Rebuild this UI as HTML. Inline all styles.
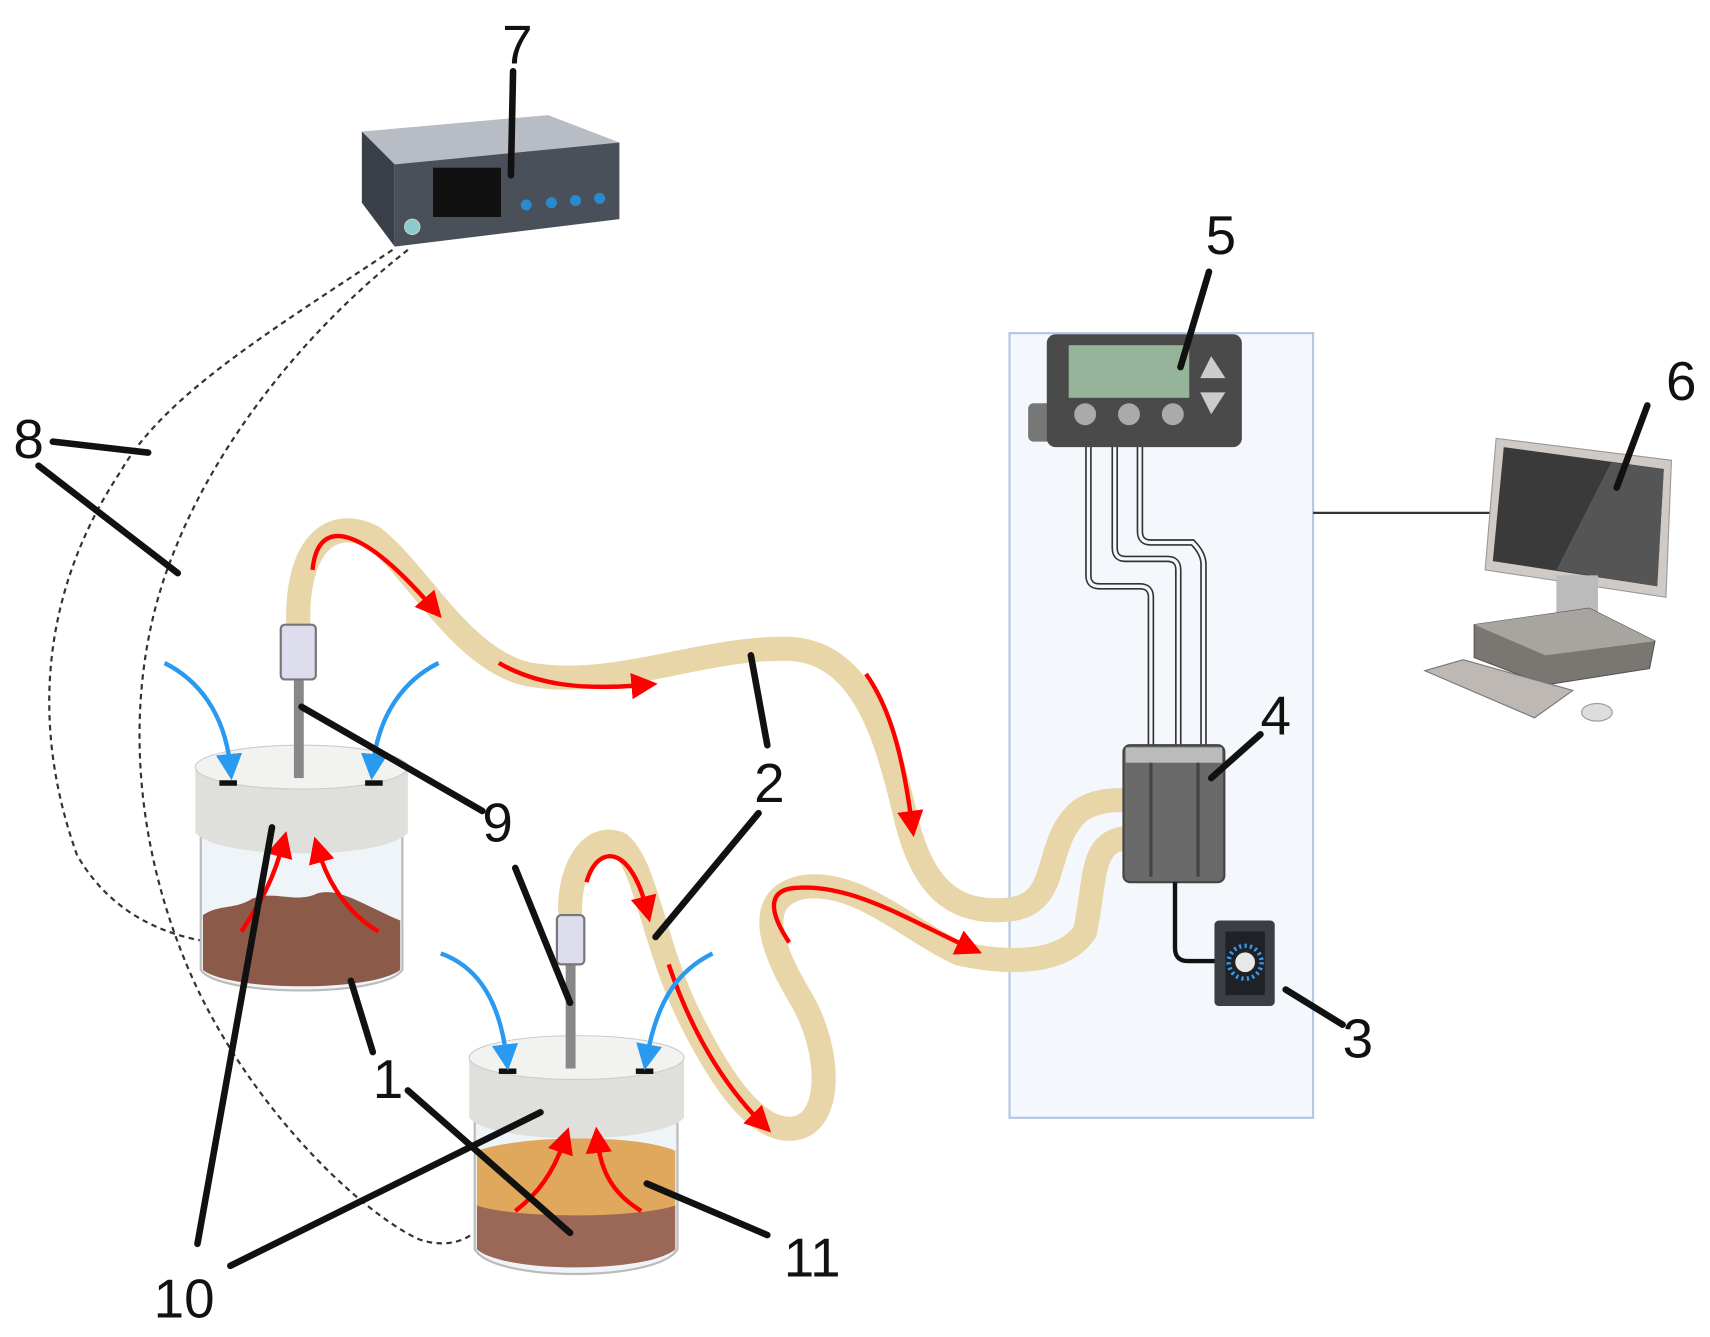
<!DOCTYPE html>
<html><head><meta charset="utf-8"><style>html,body{margin:0;padding:0;background:#fff}svg{display:block}</style></head>
<body>
<svg width="1710" height="1337" viewBox="0 0 1560 1220" xmlns="http://www.w3.org/2000/svg" font-family="Liberation Sans, sans-serif">
<defs>
<marker id="ra" markerWidth="6" markerHeight="6" refX="3" refY="3" orient="auto" markerUnits="strokeWidth"><path d="M0,0 L6,3 L0,6 z" fill="#f00"/></marker>
<marker id="ba" markerWidth="6" markerHeight="6" refX="3" refY="3" orient="auto" markerUnits="strokeWidth"><path d="M0,0 L6,3 L0,6 z" fill="#2a9af0"/></marker>
</defs>
<rect width="1560" height="1220" fill="#fff"/>
<rect x="921" y="304" width="277" height="716" fill="#f4f8fc" stroke="#b4c8e4" stroke-width="2"/>
<line x1="1198" y1="468" x2="1362" y2="468" stroke="#333" stroke-width="2"/>
<path d="M358,228 C250,300 150,360 110,430 C50,520 20,640 70,780 C110,850 180,860 215,862" fill="none" stroke="#333" stroke-width="2" stroke-dasharray="5,4"/>
<path d="M372,228 C280,300 200,400 160,500 C110,620 120,760 170,880 C220,1000 320,1100 380,1130 C400,1138 420,1135 432,1125" fill="none" stroke="#333" stroke-width="2" stroke-dasharray="5,4"/>
<polygon points="330,120 500,105 565,130 360,150" fill="#b8bcc4"/>
<polygon points="330,120 360,150 360,225 330,185" fill="#3a3f48"/>
<polygon points="360,150 565,130 565,200 360,225" fill="#4a505a"/>
<rect x="395" y="153" width="62" height="45" fill="#111"/>
<circle cx="376" cy="207" r="7" fill="#8cc" stroke="#ccc"/>
<g fill="#2a8ad0"><circle cx="480" cy="187" r="5"/><circle cx="503" cy="185" r="5"/><circle cx="525" cy="183" r="5"/><circle cx="547" cy="181" r="5"/></g>
<g fill="none" stroke="#e8d5a8" stroke-width="22" stroke-linecap="round">
<path d="M272,570 C270,500 300,470 340,490 C380,520 420,600 480,615 C560,630 640,590 720,592 C790,595 810,680 825,740 C840,810 870,835 920,830 C970,825 950,770 985,740 C1000,730 1015,730 1025,730"/>
<path d="M520,830 C520,790 540,760 565,770 C590,790 595,860 630,930 C660,990 690,1030 720,1030 C760,1030 760,960 730,910 C700,860 690,820 730,810 C780,800 830,850 875,870 C920,880 970,880 990,850 C1000,800 995,770 1025,765"/>
</g>
<g stroke="#f00" stroke-width="4" fill="none" marker-end="url(#ra)">
<path d="M285,520 C290,470 330,480 395,555"/>
<path d="M455,605 C490,625 530,630 588,625"/>
<path d="M790,615 C815,650 825,700 832,752"/>
<path d="M720,860 C700,830 700,810 730,810 C780,808 830,840 885,865"/>
<path d="M535,805 C545,770 575,770 590,830"/>
<path d="M610,880 C630,940 660,990 695,1025"/>
</g>
<!-- jar 1 -->
<path d="M183,760 L183,885 C200,910 350,910 367,885 L367,760" fill="#eef4f7" stroke="#bbb" stroke-width="2"/>
<path d="M185,835 C200,825 215,830 230,820 C250,812 270,825 290,815 C310,810 330,825 365,840 L365,885 C340,905 210,905 185,885 Z" fill="#8b5a48"/>
<path d="M178,700 L178,760 C200,785 350,785 372,760 L372,700 Z" fill="#dfe0dc"/>
<ellipse cx="275" cy="700" rx="97" ry="20" fill="#f2f2f0" stroke="#ccc"/>
<rect x="268" y="615" width="9" height="95" fill="#888"/>
<rect x="256" y="570" width="32" height="50" rx="4" fill="#dde" stroke="#777" stroke-width="2"/>
<rect x="200" y="712" width="16" height="5" fill="#111"/><rect x="333" y="712" width="16" height="5" fill="#111"/>
<!-- jar 2 -->
<path d="M433,1020 L433,1140 C450,1170 600,1170 618,1140 L618,1020" fill="#eef4f7" stroke="#bbb" stroke-width="2"/>
<path d="M435,1100 C480,1095 580,1095 616,1100 L616,1140 C590,1162 460,1162 435,1140 Z" fill="#9b6858"/>
<path d="M435,1050 C480,1035 580,1035 616,1050 L616,1100 C580,1112 470,1112 435,1100 Z" fill="#e0a85c"/>
<path d="M428,965 L428,1020 C450,1045 600,1045 624,1020 L624,965 Z" fill="#dfe0dc"/>
<ellipse cx="526" cy="965" rx="98" ry="20" fill="#f2f2f0" stroke="#ccc"/>
<rect x="516" y="880" width="9" height="95" fill="#888"/>
<rect x="508" y="835" width="25" height="45" rx="4" fill="#dde" stroke="#777" stroke-width="2"/>
<rect x="455" y="975" width="16" height="5" fill="#111"/><rect x="580" y="975" width="16" height="5" fill="#111"/>
<g stroke="#f00" stroke-width="4" fill="none" marker-end="url(#ra)">
<path d="M220,850 C240,820 250,800 258,770"/>
<path d="M345,850 C320,835 300,810 290,775"/>
<path d="M470,1105 C490,1090 505,1070 515,1040"/>
<path d="M585,1105 C560,1090 548,1070 545,1040"/>
</g>
<g stroke="#2a9af0" stroke-width="4" fill="none" marker-end="url(#ba)">
<path d="M150,605 C180,620 205,650 210,700"/>
<path d="M400,605 C370,620 345,650 340,700"/>
<path d="M402,870 C430,880 455,905 462,965"/>
<path d="M650,870 C620,885 600,910 590,965"/>
</g>
<g fill="none" stroke="#333" stroke-width="6"><path d="M993,405 L993,525 Q993,535 1003,535 L1040,535 Q1050,535 1050,545 L1050,690"/><path d="M1017,405 L1017,500 Q1017,510 1027,510 L1065,510 Q1075,510 1075,520 L1075,690"/><path d="M1040,405 L1040,485 Q1040,495 1050,495 L1088,495 Q1098,505 1098,515 L1098,690"/></g>
<g fill="none" stroke="#f4f8fc" stroke-width="3"><path d="M993,405 L993,525 Q993,535 1003,535 L1040,535 Q1050,535 1050,545 L1050,690"/><path d="M1017,405 L1017,500 Q1017,510 1027,510 L1065,510 Q1075,510 1075,520 L1075,690"/><path d="M1040,405 L1040,485 Q1040,495 1050,495 L1088,495 Q1098,505 1098,515 L1098,690"/></g>
<rect x="938" y="368" width="25" height="35" rx="5" fill="#777"/>
<rect x="955" y="305" width="178" height="103" rx="8" fill="#4a4a4a"/>
<rect x="975" y="315" width="110" height="48" fill="#96b49a"/>
<circle cx="990" cy="378" r="10" fill="#aaa"/><circle cx="1030" cy="378" r="10" fill="#aaa"/><circle cx="1070" cy="378" r="10" fill="#aaa"/>
<polygon points="1105,325 1095,345 1118,345" fill="#ccc"/><polygon points="1105,378 1095,358 1118,358" fill="#ccc"/>
<rect x="1025" y="680" width="92" height="125" rx="6" fill="#6a6a6a" stroke="#444" stroke-width="2"/>
<rect x="1027" y="682" width="88" height="14" fill="#bbb"/>
<line x1="1050" y1="696" x2="1050" y2="800" stroke="#444" stroke-width="3"/><line x1="1093" y1="696" x2="1093" y2="800" stroke="#444" stroke-width="3"/>
<path d="M1072,805 L1072,865 Q1072,877 1084,877 L1110,877" fill="none" stroke="#111" stroke-width="4"/>
<rect x="1108" y="840" width="55" height="78" rx="4" fill="#3a3f45"/>
<rect x="1118" y="850" width="36" height="58" fill="#1e2226"/>
<circle cx="1136" cy="878" r="15" fill="none" stroke="#3a9af0" stroke-width="4" stroke-dasharray="2,3"/>
<circle cx="1136" cy="878" r="9" fill="#e8e8e8"/>
<polygon points="1365,400 1525,420 1520,545 1355,520" fill="#cfcac5" stroke="#999"/>
<polygon points="1372,408 1518,428 1512,535 1362,512" fill="#3a3a3a"/>
<polygon points="1420,520 1512,535 1518,428 1470,422" fill="#555"/>
<rect x="1420" y="525" width="38" height="40" fill="#bbb"/>
<polygon points="1345,570 1450,555 1510,585 1505,610 1410,625 1345,600" fill="#7a7672" stroke="#555"/>
<polygon points="1345,570 1450,555 1510,585 1410,598" fill="#a8a4a0"/>
<polygon points="1300,612 1335,602 1435,630 1400,655" fill="#bdb8b4" stroke="#777"/>
<ellipse cx="1457" cy="650" rx="14" ry="8" fill="#ddd" stroke="#999"/>
<g stroke="#111" stroke-width="6" stroke-linecap="round">
<line x1="468" y1="65" x2="466" y2="160"/>
<line x1="1103" y1="248" x2="1077" y2="335"/>
<line x1="1503" y1="370" x2="1475" y2="445"/>
<line x1="1150" y1="670" x2="1105" y2="710"/>
<line x1="1225" y1="935" x2="1173" y2="903"/>
<line x1="48" y1="403" x2="135" y2="413"/>
<line x1="35" y1="425" x2="162" y2="523"/>
<line x1="685" y1="598" x2="700" y2="680"/>
<line x1="598" y1="855" x2="692" y2="742"/>
<line x1="275" y1="645" x2="440" y2="740"/>
<line x1="520" y1="915" x2="470" y2="792"/>
<line x1="180" y1="1135" x2="248" y2="755"/>
<line x1="210" y1="1155" x2="493" y2="1015"/>
<line x1="320" y1="895" x2="340" y2="960"/>
<line x1="372" y1="995" x2="520" y2="1125"/>
<line x1="700" y1="1127" x2="590" y2="1080"/>
</g>
<g font-size="50" fill="#111">
<text x="458" y="58">7</text><text x="1100" y="232">5</text><text x="1520" y="365">6</text>
<text x="1150" y="670">4</text><text x="1225" y="965">3</text><text x="12" y="418">8</text>
<text x="688" y="732">2</text><text x="440" y="768">9</text><text x="340" y="1002">1</text>
<text x="140" y="1202">10</text><text x="715" y="1165">11</text>
</g>
</svg>
</body></html>
